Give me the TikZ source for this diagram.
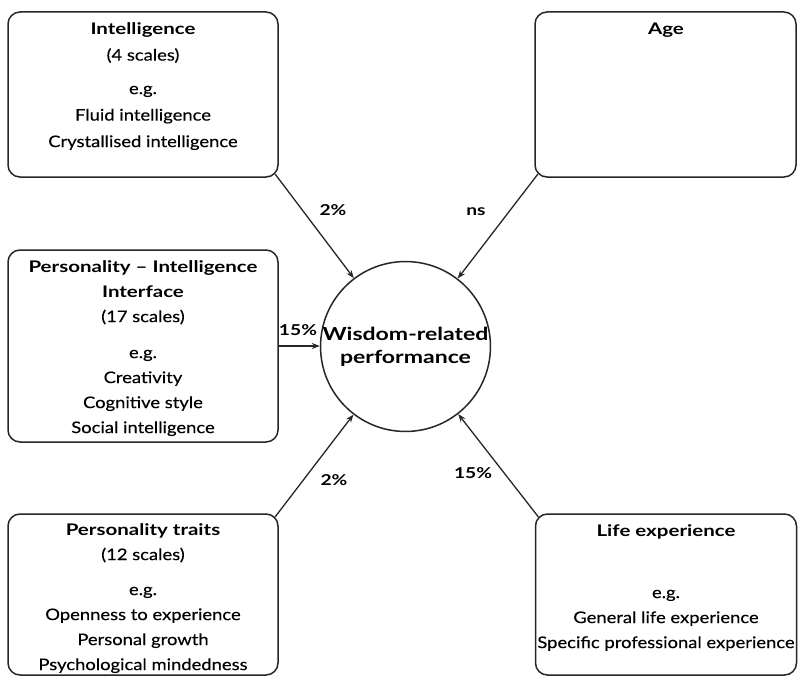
\documentclass[tikz,border=0pt]{standalone}
\usepackage{fontspec}
\setmainfont{Lato}[FakeStretch=1.15, FakeBold=0.3]
\newfontfamily\titlef{Lato}[FakeStretch=1.28, Ligatures=TeX]
\usetikzlibrary{arrows.meta,calc}
\begin{document}
\begin{tikzpicture}[x=1pt,y=-1pt,
  box/.style={draw=black!85, line width=1.5pt, rounded corners=12pt, inner sep=0pt},
  txt/.style={font=\fontsize{16}{25}\selectfont, align=center, anchor=north, inner sep=0pt},
  arr/.style={draw=black!85, line width=1.3pt, -{Stealth[length=8pt,width=6pt]}},
  lab/.style={font=\titlef\bfseries\fontsize{15}{18}\selectfont, inner sep=0pt}]
\newcommand\ttl[1]{{\titlef\bfseries #1}}
\useasboundingbox (0,0) rectangle (798,677);
% boxes
\node[box, minimum width=270pt, minimum height=165pt] (intel) at (143,94.5) {};
\node[box, minimum width=261pt, minimum height=165pt] (age) at (665.5,94.5) {};
\node[box, minimum width=270pt, minimum height=192pt] (pii) at (143,346) {};
\node[box, minimum width=270pt, minimum height=161pt] (pt) at (143,594.5) {};
\node[box, minimum width=261pt, minimum height=161pt] (life) at (666,594.5) {};
% texts
\node[txt, font=\fontsize{16}{26.5}\selectfont] (intelT) at (143,22) {\ttl{Intelligence}\\(4 scales)\\[7pt]e.g.\\Fluid intelligence\\Crystallised intelligence};
\node[txt] (ageT) at (666,23) {\ttl{Age}};
\node[txt] (piiT) at (143,260) {\ttl{Personality – Intelligence}\\\ttl{Interface}\\(17 scales)\\[11pt]e.g.\\Creativity\\Cognitive style\\Social intelligence};
\node[txt] (ptT) at (143,523) {\ttl{Personality traits}\\(12 scales)\\[10pt]e.g.\\Openness to experience\\Personal growth\\Psychological mindedness};
\node[txt] (lifeT) at (666,524) {\ttl{Life experience}\\[37pt]e.g.\\General life experience\\Specific professional experience};
% centre
\node[circle, draw=black!85, line width=1.5pt, minimum size=166pt, inner sep=0pt, align=center,
      font=\titlef\bfseries\fontsize{18}{23}\selectfont] (w) at (405.5,346.5) {Wisdom-related\\performance};
% connectors
\draw[arr] ($(intel.south east)+(-3.5,-3.5)$) -- (w);
\draw[arr] ($(age.south west)+(3.5,-3.5)$) -- (w);
\draw[arr] (pii.east) -- (pii.east -| w.west);
\draw[arr] ($(pt.north east)+(-3.5,3.5)$) -- (w);
\draw[arr] ($(life.north west)+(3.5,3.5)$) -- (w);
% labels
\node[lab] (l1) at (333,210) {2\%};
\node[lab] (l2) at (476,212) {ns};
\node[lab] (l3) at (298,330) {15\%};
\node[lab] (l4) at (334,480) {2\%};
\node[lab] (l5) at (473,473) {15\%};
\end{tikzpicture}
\end{document}
